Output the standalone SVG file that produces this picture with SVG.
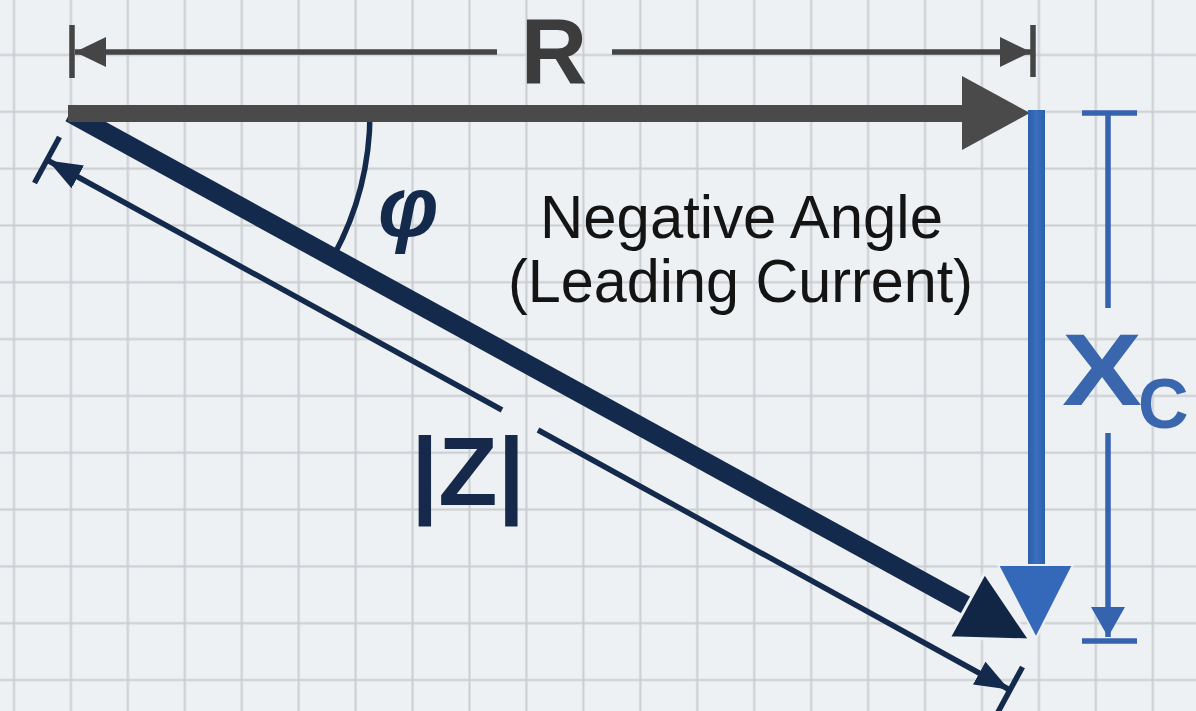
<svg xmlns="http://www.w3.org/2000/svg" width="1196" height="711" viewBox="0 0 1196 711">
  <style>
    .dim-gray { stroke: #454545; stroke-width: 5.5; fill: none; }
    .dim-blue { stroke: #3563ad; stroke-width: 5.5; fill: none; }
    .dim-navy { stroke: #142a4c; stroke-width: 5.5; fill: none; }
    .sans { font-family: "Liberation Sans", Arial, sans-serif; }
  </style>
  <defs>
    <pattern id="grid" x="-14.47" y="26.59" width="56.94" height="56.82" patternUnits="userSpaceOnUse">
      <rect width="56.94" height="56.82" fill="#eef1f3"/>
      <path d="M28.47 0V56.82M0 28.41H56.94" stroke="#cacdd1" stroke-width="2" fill="none"/>
    </pattern>
    <marker id="ahGray" viewBox="0 0 31 30" refX="31" refY="15" markerWidth="31" markerHeight="30" markerUnits="userSpaceOnUse" orient="auto-start-reverse">
      <path d="M0 0L31 15L0 30z" fill="#454545"/>
    </marker>
    <marker id="ahBlue" viewBox="0 0 30 34" refX="30" refY="17" markerWidth="30" markerHeight="34" markerUnits="userSpaceOnUse" orient="auto-start-reverse">
      <path d="M0 0L30 17L0 34z" fill="#3563ad"/>
    </marker>
    <marker id="ahNavy" viewBox="0 0 34 26" refX="34" refY="13" markerWidth="34" markerHeight="26" markerUnits="userSpaceOnUse" orient="auto-start-reverse">
      <path d="M0 0L34 13L0 26z" fill="#142a4c"/>
    </marker>
    <linearGradient id="blueGrad" x1="0" y1="0" x2="1" y2="0">
      <stop offset="0" stop-color="#2c5ea9"/>
      <stop offset="0.5" stop-color="#3a6fc0"/>
      <stop offset="1" stop-color="#2c5ea9"/>
    </linearGradient>
  </defs>

  <rect width="1196" height="711" fill="url(#grid)"/>

  <g id="connectors">
    <g id="dim-R">
      <line class="dim-gray" x1="72" y1="25" x2="72" y2="78"/>
      <line class="dim-gray" x1="1033" y1="25" x2="1033" y2="77"/>
      <line class="dim-gray" x1="75" y1="52" x2="497" y2="52" marker-start="url(#ahGray)"/>
      <line class="dim-gray" x1="612" y1="52" x2="1031" y2="52" marker-end="url(#ahGray)"/>
    </g>
    <g id="dim-Xc">
      <line class="dim-blue" x1="1082" y1="113" x2="1137" y2="113"/>
      <line class="dim-blue" x1="1108" y1="113" x2="1108" y2="308"/>
      <line class="dim-blue" x1="1108" y1="433" x2="1108" y2="637" marker-end="url(#ahBlue)"/>
      <line class="dim-blue" x1="1082" y1="641" x2="1137" y2="641"/>
    </g>
    <g id="dim-Z">
      <line class="dim-navy" x1="59.5" y1="137" x2="34.5" y2="183"/>
      <line class="dim-navy" x1="1022.5" y1="667" x2="997.5" y2="713"/>
      <line class="dim-navy" x1="48" y1="160.5" x2="502" y2="410" marker-start="url(#ahNavy)"/>
      <line class="dim-navy" x1="538" y1="430" x2="1009" y2="689.5" marker-end="url(#ahNavy)"/>
    </g>
    <path id="arc-phi" class="dim-navy" d="M370 113 A300 300 0 0 1 333 257"/>
  </g>

  <g id="vector-Z">
    <line x1="70" y1="113" x2="975" y2="610" stroke="#142a4c" stroke-width="19"/>
    <polygon transform="translate(1030,640) rotate(28.76)" points="0,0 -72,-37 -72,37" fill="#112645" stroke="#eef1f3" stroke-width="3"/>
  </g>

  <g id="vector-R">
    <line x1="68" y1="113.5" x2="968" y2="113.5" stroke="#4a4a4a" stroke-width="17"/>
    <polygon points="1030,113 962,76 962,150" fill="#4a4a4a"/>
  </g>

  <g id="vector-Xc">
    <rect x="1028" y="110" width="17" height="460" fill="url(#blueGrad)"/>
    <polygon points="998,565 1073,565 1036,638" fill="#3468b8" stroke="#eef1f3" stroke-width="2"/>
  </g>

  <g id="label-R">
    <text class="sans" x="554" y="83" font-size="92" font-weight="bold" fill="#3c3c3c" text-anchor="middle">R</text>
  </g>
  <g id="label-phi">
    <text class="sans" x="378" y="236" font-size="86" font-weight="bold" font-style="italic" fill="#142a4c">φ</text>
  </g>
  <g id="label-note">
    <text class="sans" x="540" y="238" font-size="62" fill="#141414" textLength="403" lengthAdjust="spacingAndGlyphs">Negative Angle</text>
    <text class="sans" x="508" y="302" font-size="62" fill="#141414" textLength="465" lengthAdjust="spacingAndGlyphs">(Leading Current)</text>
  </g>
  <g id="label-Z">
    <text class="sans" x="468" y="505" font-size="97" font-weight="bold" fill="#16294a" text-anchor="middle">|Z|</text>
  </g>
  <g id="label-Xc">
    <text class="sans" x="1062" y="405" font-size="102" font-weight="bold" fill="#3a66ae" textLength="80" lengthAdjust="spacingAndGlyphs">X</text>
    <text class="sans" x="1138" y="428" font-size="70" font-weight="bold" fill="#3a66ae">C</text>
  </g>
</svg>
